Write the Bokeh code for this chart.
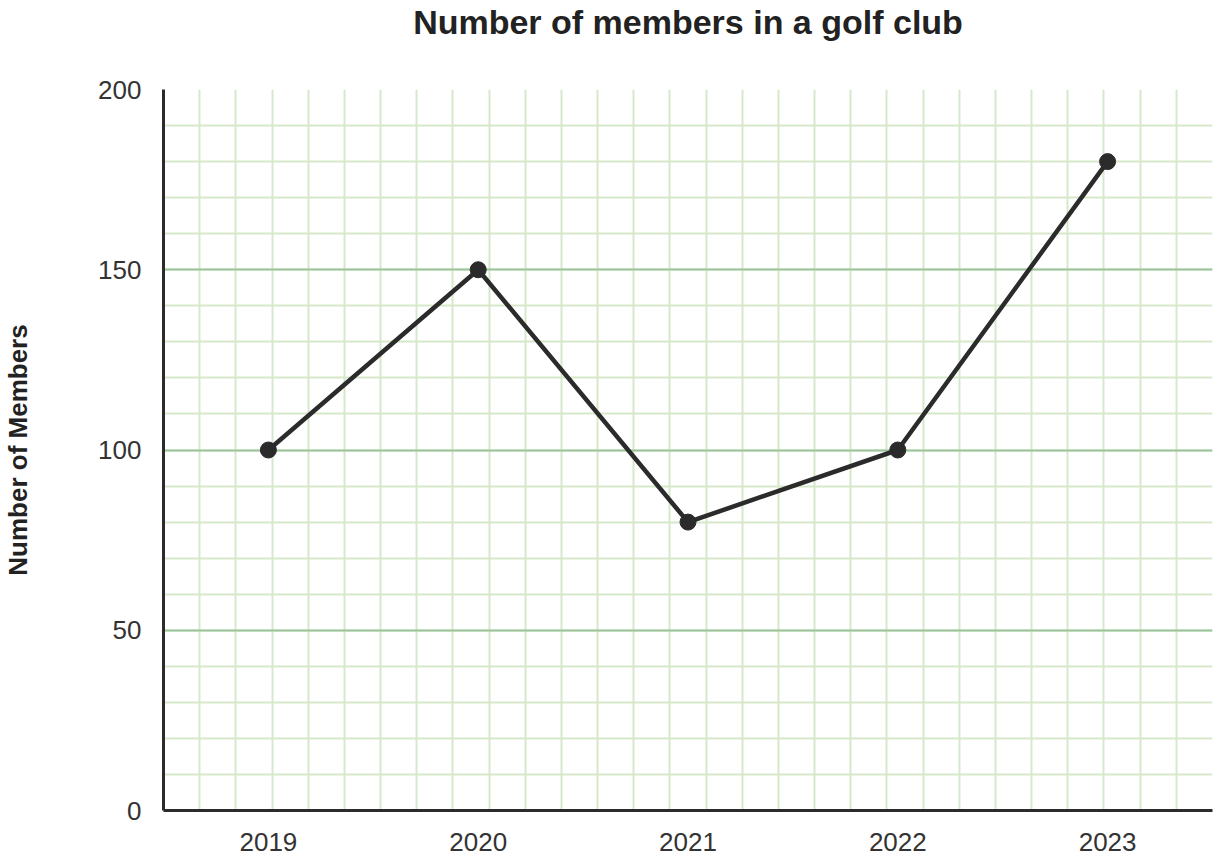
from bokeh.plotting import figure
from bokeh.models import Range1d, SingleIntervalTicker, FixedTicker, ColumnDataSource, Title
from bokeh.embed import file_html
from bokeh.resources import INLINE

years = ["2019", "2020", "2021", "2022", "2023"]
members = [100, 150, 80, 100, 180]

title_text = "Number of members in a golf club"
y_label = "Number of Members"

FONT = "Liberation Sans"
INK = "#2b2b2b"

xpos = [i + 0.5 for i in range(len(years))]
src = ColumnDataSource(dict(x=xpos, y=members))

p = figure(width=1220, height=857, output_backend="svg", toolbar_location=None,
           x_range=Range1d(0, len(years)), y_range=Range1d(0, 200),
           min_border_left=162, min_border_right=8, min_border_top=87, min_border_bottom=47)
p.outline_line_color = None
p.background_fill_color = "white"

# spacer between title and plot area (closest to the frame)
spacer = Title(text=" ", text_font=FONT, text_font_size="20px", standoff=25)
p.add_layout(spacer, "above")

main_title = Title(text=title_text, text_font=FONT, text_font_size="34px",
                   text_font_style="bold", text_color="#222222", align="center", standoff=0)
p.add_layout(main_title, "above")

# grid (graph-paper style)
cells = 29
p.xgrid.ticker = FixedTicker(ticks=[i * len(years) / cells for i in range(1, cells + 1)])
p.xgrid.grid_line_color = "#d6e8ca"
p.xgrid.grid_line_width = 2

p.yaxis.ticker = SingleIntervalTicker(interval=50, num_minor_ticks=5)
p.ygrid.grid_line_color = "#9cc59c"
p.ygrid.grid_line_width = 2
p.ygrid.minor_grid_line_color = "#d6e8ca"
p.ygrid.minor_grid_line_width = 2

p.xaxis.ticker = FixedTicker(ticks=xpos)
p.xaxis.major_label_overrides = {x: y for x, y in zip(xpos, years)}

for ax in (p.xaxis[0], p.yaxis[0]):
    ax.axis_line_color = INK
    ax.axis_line_width = 3
    ax.major_tick_line_color = None
    ax.minor_tick_line_color = None
    ax.major_label_text_font = FONT
    ax.major_label_text_font_size = "26px"
    ax.major_label_text_color = "#333333"

p.xaxis.major_label_standoff = 16
p.yaxis.major_label_standoff = 16

p.yaxis.axis_label = y_label
p.yaxis.axis_label_text_font = FONT
p.yaxis.axis_label_text_font_size = "26px"
p.yaxis.axis_label_text_font_style = "bold"
p.yaxis.axis_label_text_color = "#222222"
p.yaxis.axis_label_standoff = 62

p.line("x", "y", source=src, line_color=INK, line_width=4.5)
p.scatter("x", "y", source=src, size=16, fill_color=INK, line_color=INK)

open("out.html", "w").write(file_html(p, INLINE))
